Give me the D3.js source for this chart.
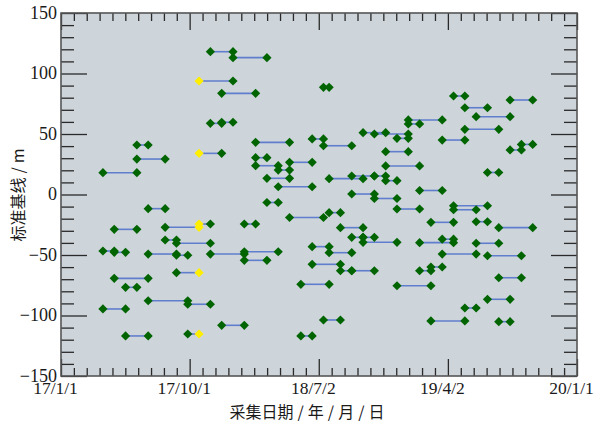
<!DOCTYPE html>
<html>
<head>
<meta charset="utf-8">
<script src="https://cdn.jsdelivr.net/npm/d3@7"></script>
<style>
	body { margin: 0; background: #fff; }
	.tick-label { font-family: 'Liberation Serif', 'Times New Roman', serif; font-size: 18px; fill: #1a1a1a; }
	.x-label { font-size: 17.5px; }
	.axis-title { font-family: 'Noto Sans CJK SC', sans-serif; font-size: 16px; fill: #1a1a1a; }
</style>
</head>
<body>
<script>
'use strict';

// interferometric pairs: start date, end date, baseline (m)
var pairStart = [
	'2017-03-31', '2017-06-11', '2017-06-11', '2017-07-05', '2017-04-24',
	'2017-08-10', '2017-10-21', '2017-08-10', '2017-09-03', '2017-03-31',
	'2017-04-24', '2017-07-05', '2017-09-03', '2017-11-14', '2018-01-25',
	'2018-01-25', '2017-09-03', '2017-04-24', '2017-05-18', '2017-07-05',
	'2017-09-27', '2017-03-31', '2017-12-08', '2017-05-18', '2017-09-27',
	'2017-11-14', '2018-01-01', '2017-10-21', '2017-12-08', '2017-11-14',
	'2017-12-08', '2017-10-21', '2018-07-12', '2018-02-18', '2018-06-18',
	'2018-07-12', '2018-02-18', '2018-02-18', '2018-04-07', '2018-05-01',
	'2018-03-14', '2018-04-07', '2018-03-14', '2018-05-01', '2018-07-24',
	'2018-01-25', '2018-08-17', '2018-09-10', '2018-10-04', '2018-10-04',
	'2018-06-18', '2018-07-24', '2018-06-18', '2018-08-17', '2018-09-10',
	'2018-05-25', '2018-12-15', '2018-07-12', '2018-05-25', '2018-10-04',
	'2018-10-28', '2018-12-15', '2018-11-21', '2018-11-21', '2018-07-24',
	'2018-09-10', '2018-10-28', '2018-11-21', '2018-09-10', '2018-10-28',
	'2018-12-15', '2019-02-01', '2019-01-08', '2019-01-08', '2019-04-14',
	'2019-08-12', '2019-05-08', '2019-06-01', '2019-05-08', '2019-03-21',
	'2019-08-12', '2019-09-05', '2019-06-25', '2019-04-14', '2019-04-14',
	'2019-02-25', '2019-06-01', '2019-07-19', '2019-02-01', '2019-03-21',
	'2019-06-01', '2019-03-21', '2019-06-25', '2019-02-01', '2019-02-25',
	'2019-07-19', '2019-06-25', '2019-05-08', '2019-02-25', '2019-07-19'
],

pairEnd = [
	'2017-06-11', '2017-07-05', '2017-08-10', '2017-08-10', '2017-06-11',
	'2017-10-21', '2017-11-14', '2017-09-03', '2017-11-14', '2017-04-24',
	'2017-05-18', '2017-09-03', '2017-09-27', '2018-01-25', '2018-04-07',
	'2018-03-14', '2017-10-21', '2017-07-05', '2017-06-11', '2017-09-27',
	'2017-11-14', '2017-05-18', '2018-01-25', '2017-07-05', '2017-10-21',
	'2018-01-01', '2018-03-14', '2018-01-01', '2018-02-18', '2017-12-08',
	'2018-01-01', '2017-12-08', '2018-07-24', '2018-05-01', '2018-07-12',
	'2018-09-10', '2018-03-14', '2018-04-07', '2018-05-01', '2018-06-18',
	'2018-05-01', '2018-06-18', '2018-04-07', '2018-07-12', '2018-08-17',
	'2018-02-18', '2018-10-04', '2018-10-04', '2018-10-28', '2018-12-15',
	'2018-07-24', '2018-09-10', '2018-08-17', '2018-09-10', '2018-10-28',
	'2018-07-24', '2019-02-25', '2018-08-17', '2018-06-18', '2018-11-21',
	'2019-01-08', '2019-01-08', '2019-01-08', '2019-02-01', '2018-10-04',
	'2018-10-28', '2018-11-21', '2018-12-15', '2018-10-28', '2018-12-15',
	'2019-02-01', '2019-03-21', '2019-02-01', '2019-03-21', '2019-05-08',
	'2019-09-29', '2019-06-25', '2019-08-12', '2019-07-19', '2019-05-08',
	'2019-09-05', '2019-09-29', '2019-07-19', '2019-06-25', '2019-06-01',
	'2019-04-14', '2019-06-25', '2019-09-29', '2019-04-14', '2019-04-14',
	'2019-07-19', '2019-06-01', '2019-09-05', '2019-02-25', '2019-03-21',
	'2019-09-05', '2019-08-12', '2019-06-01', '2019-05-08', '2019-08-12'
],

baselines = [
	18.0, 40.9, 29.3, -11.7, -28.8,
	-27.1, -24.4, -37.6, -40.3, -46.7,
	-47.8, -49.2, -50.2, -49.2, -47.3,
	-54.4, -64.6, -69.3, -76.7, -87.8,
	-90.7, -94.6, -108.1, -116.9, -115.3,
	118.0, 113.1, 93.8, 83.6, 58.8,
	59.7, 34.0, 88.6, 43.1, 45.9,
	40.3, 30.4, 23.8, 20.2, 26.6,
	13.4, 6.4, -6.6, -19.0, -15.0,
	-24.4, -27.4, -35.4, -35.4, -39.5,
	-43.1, -48.1, -57.7, -63.0, -63.0,
	-74.2, -75.4, -103.7, -116.9, 51.1,
	50.0, 46.4, 35.4, 23.6, 13.1,
	15.3, 15.3, 11.4, 0.4, -3.3,
	-12.0, 3.3, 58.3, 61.6, 81.4,
	78.1, 71.7, 64.3, 53.9, 45.0,
	36.8, 41.4, 18.2, -9.3, -12.6,
	-23.0, -22.5, -27.4, -39.8, -36.9,
	-40.3, -49.2, -50.6, -63.0, -59.9,
	-68.8, -86.6, -93.8, -104.5, -105.1
],

// the acquisition marked in yellow
highlightDate = '2017-10-21',

xTickDates = ['2017-01-01', '2017-10-01', '2018-07-02', '2019-04-02', '2020-01-01'],
xTickLabels = ['17/1/1', '17/10/1', '18/7/2', '19/4/2', '20/1/1'],
yTicks = [-150, -100, -50, 0, 50, 100, 150],
yTitle = ['标准基线', '/', 'm'],
xTitle = ['采集日期', '/', '年', '/', '月', '/', '日'];

var margin = {top: 13, right: 17, bottom: 49, left: 61},
	width = 594 - margin.left - margin.right,
	height = 425 - margin.top - margin.bottom,

	parseDate = d3.utcParse('%Y-%m-%d'),

	x = d3.scaleUtc()
		.domain([parseDate(xTickDates[0]), parseDate(xTickDates[xTickDates.length - 1])])
		.range([0, width]),

	y = d3.scaleLinear()
		.domain([-150, 150])
		.range([height, 0]);

var svg = d3.select('body').append('svg')
	.attr('width', 594)
	.attr('height', 425);

var g = svg.append('g')
	.attr('transform', 'translate(' + margin.left + ',' + margin.top + ')');

// plot background
g.append('rect')
	.attr('width', width)
	.attr('height', height)
	.attr('fill', '#cdd4da');

/*
* Ticks, all pointing inward. Minor x ticks split each major step in ten,
* minor y ticks every 10 m.
*/
var majorX = xTickDates.map(parseDate),
	minorX = [];
for (var i = 0; i < majorX.length - 1; i++) {
	var t0 = +majorX[i], t1 = +majorX[i + 1];
	for (var j = 1; j < 10; j++) {
		minorX.push(new Date(t0 + (t1 - t0) * j / 10));
	}
}
var minorY = d3.range(-150, 151, 10).filter(function(v) { return v % 50 !== 0; });

function styleAxis(sel) {
	sel.select('.domain').remove();
	sel.selectAll('.tick line')
		.attr('stroke', '#2a2a2a')
		.attr('stroke-width', 1.3);
	sel.selectAll('.tick text')
		.attr('class', 'tick-label')
		.attr('fill', null);
	sel.attr('font-family', null).attr('font-size', null);
}

var fmtX = function(d, i) { return xTickLabels[i]; };

g.append('g')
	.attr('transform', 'translate(0,' + height + ')')
	.call(d3.axisBottom(x).tickValues(majorX).tickFormat(fmtX).tickSize(-17).tickPadding(6))
	.call(styleAxis)
	.selectAll('.tick text')
		.attr('class', 'tick-label x-label')
		.attr('dx', -6);

g.append('g')
	.attr('transform', 'translate(0,' + height + ')')
	.call(d3.axisBottom(x).tickValues(minorX).tickFormat('').tickSize(-8))
	.call(styleAxis);

g.append('g')
	.call(d3.axisTop(x).tickValues(majorX).tickFormat('').tickSize(-17))
	.call(styleAxis);

g.append('g')
	.call(d3.axisTop(x).tickValues(minorX).tickFormat('').tickSize(-8))
	.call(styleAxis);

g.append('g')
	.call(d3.axisLeft(y).tickValues(yTicks).tickFormat(function(d) { return d < 0 ? '\u2212' + (-d) : d; }).tickSize(-26).tickPadding(4))
	.call(styleAxis)
	.selectAll('.tick text')
		.attr('dy', '0.28em');

g.append('g')
	.call(d3.axisLeft(y).tickValues(minorY).tickFormat('').tickSize(-13))
	.call(styleAxis);

g.append('g')
	.attr('transform', 'translate(' + width + ',0)')
	.call(d3.axisRight(y).tickValues(yTicks).tickFormat('').tickSize(-26))
	.call(styleAxis);

g.append('g')
	.attr('transform', 'translate(' + width + ',0)')
	.call(d3.axisRight(y).tickValues(minorY).tickFormat('').tickSize(-13))
	.call(styleAxis);

// pairs as records
var pairs = baselines.map(function(b, i) {
	return {start: pairStart[i], end: pairEnd[i], b: b};
});

var points = [];
pairs.forEach(function(p) {
	points.push({date: p.start, b: p.b});
	points.push({date: p.end, b: p.b});
});

g.append('g').selectAll('line')
	.data(pairs).enter()
	.append('line')
		.attr('x1', function(d) { return x(parseDate(d.start)); })
		.attr('x2', function(d) { return x(parseDate(d.end)); })
		.attr('y1', function(d) { return y(d.b); })
		.attr('y2', function(d) { return y(d.b); })
		.attr('stroke', '#4d6fcb')
		.attr('stroke-opacity', 0.85)
		.attr('stroke-width', 1.6);

var diamond = 'M0,-4.6L4.6,0L0,4.6L-4.6,0Z';

function drawPoints(data, colour) {
	g.append('g').selectAll('path')
		.data(data).enter()
		.append('path')
			.attr('d', diamond)
			.attr('transform', function(d) {
				return 'translate(' + x(parseDate(d.date)) + ',' + y(d.b) + ')';
			})
			.attr('fill', colour);
}

drawPoints(points.filter(function(d) { return d.date !== highlightDate; }), '#006400');
drawPoints(points.filter(function(d) { return d.date === highlightDate; }), '#ffee00');

// frame on top
g.append('rect')
	.attr('width', width)
	.attr('height', height)
	.attr('fill', 'none')
	.attr('stroke', '#555')
	.attr('stroke-width', 1.6);

/*
* Axis titles. Slashes get extra room, as in the original.
*/
function addParts(text, parts) {
	var gap = false;
	parts.forEach(function(p) {
		text.append('tspan')
			.attr('dx', (p === '/' || gap) ? 4 : 0)
			.text(p);
		gap = (p === '/');
	});
}

var xt = svg.append('text')
	.attr('class', 'axis-title')
	.attr('x', 307)
	.attr('y', 418)
	.attr('text-anchor', 'middle');
addParts(xt, xTitle);

var yt = svg.append('text')
	.attr('class', 'axis-title')
	.attr('transform', 'translate(24,195) rotate(-90)')
	.attr('text-anchor', 'middle');
addParts(yt, yTitle);
</script>
</body>
</html>
